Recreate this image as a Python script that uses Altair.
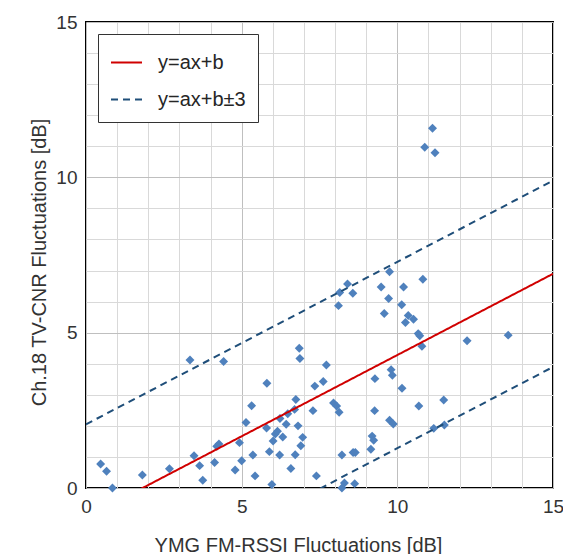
import altair as alt
import pandas as pd

# Scatter data
fm_rssi = [0.47, 0.66, 0.85, 1.81, 2.68, 3.34, 3.47, 3.65, 3.75, 4.13, 4.20, 4.27, 4.42,
           4.79, 4.93, 5.00, 5.14, 5.32, 5.36, 5.43, 5.81, 5.80, 5.89, 5.97, 6.01, 6.08,
           6.15, 6.23, 6.22, 6.32, 6.43, 6.48, 6.58, 6.70, 6.72, 6.74, 6.81, 6.85, 6.87,
           6.90, 6.96, 7.29, 7.35, 7.40, 7.62, 7.72, 7.95, 8.05, 8.13, 8.11, 8.15, 8.40,
           8.57, 8.22, 8.22, 8.30, 8.58, 8.65, 8.63, 9.15, 9.19, 9.24, 9.27, 9.28, 9.48,
           9.58, 9.72, 9.75, 9.75, 9.87, 9.80, 9.84, 10.15, 10.14, 10.20, 10.26, 10.35,
           10.52, 10.67, 10.72, 10.79, 10.82, 10.69, 11.17, 11.49, 11.51, 12.24, 13.56,
           10.88, 11.13, 11.21]
tv_cnr = [0.77, 0.54, 0.00, 0.42, 0.62, 4.12, 1.04, 0.72, 0.25, 0.82, 1.34, 1.42, 4.07,
          0.58, 1.46, 0.88, 2.11, 2.65, 1.06, 0.39, 3.37, 1.93, 1.17, 0.11, 1.51, 1.74,
          1.83, 2.24, 1.06, 1.64, 2.05, 2.39, 0.63, 2.53, 1.07, 2.85, 2.00, 4.50, 4.17,
          1.36, 1.63, 2.49, 3.28, 0.39, 3.43, 3.96, 2.74, 2.64, 2.44, 5.87, 6.29, 6.57,
          6.27, 1.06, 0.00, 0.16, 1.14, 1.14, 0.14, 1.25, 1.67, 1.54, 2.49, 3.52, 6.47,
          5.62, 6.10, 6.96, 2.18, 2.06, 3.81, 3.63, 3.21, 5.90, 6.47, 5.33, 5.55,
          5.43, 4.97, 4.90, 4.56, 6.72, 2.64, 1.92, 2.83, 2.03, 4.74, 4.92,
          10.97, 11.58, 10.79]

# Fit line parameters (y = a x + b) and band offsets
fit_a = 0.523
fit_b = -0.95
series_names = ["y=ax+b", "y=ax+b±3", "y=ax+b±3"]
series_ids = ["fit", "upper", "lower"]
series_offsets = [0, 3, -3]
x_ends = [0, 15]

ticks = list(range(16))

pts = pd.DataFrame({"x": fm_rssi, "y": tv_cnr})

rows = []
for name, sid, off in zip(series_names, series_ids, series_offsets):
    for xv in x_ends:
        rows.append({"series": name, "line": sid, "x": xv, "off": off})
lines_df = pd.DataFrame(rows)

FONT = "Liberation Sans"
grid_color = {"condition": {"test": "datum.value % 5 === 0", "value": "#BFBFBF"},
              "value": "#D9D9D9"}

x_scale = alt.Scale(domain=[0, 15], nice=False, zero=False)
y_scale = alt.Scale(domain=[0, 15], nice=False, zero=False)

x_axis = alt.Axis(values=ticks, labelExpr="datum.value % 5 === 0 ? datum.label : ''",
                  grid=True, gridColor=grid_color, gridWidth=1, ticks=False, domain=False,
                  labelFontSize=19, labelFont=FONT, labelColor="#333333", labelPadding=9,
                  labelFlush=False, labelOverlap=False,
                  title="YMG FM-RSSI Fluctuations [dB]", titleFontSize=20, titleFont=FONT,
                  titleFontWeight="normal", titleColor="#333333", titleX=212, titleY=63,
                  titleBaseline="alphabetic")
y_axis = alt.Axis(values=ticks, labelExpr="datum.value % 5 === 0 ? datum.label : ''",
                  grid=True, gridColor=grid_color, gridWidth=1, ticks=False, domain=False,
                  labelFontSize=19, labelFont=FONT, labelColor="#333333", labelPadding=9,
                  labelFlush=False, labelOverlap=False,
                  title="Ch.18 TV-CNR Fluctuations [dB]", titleFontSize=20, titleFont=FONT,
                  titleFontWeight="normal", titleColor="#333333", titleX=-47, titleY=240,
                  titleBaseline="middle")

scatter = alt.Chart(pts).mark_point(shape="diamond", filled=True, size=80,
                                    color="#4F81BD", opacity=1).encode(
    x=alt.X("x:Q", scale=x_scale, axis=x_axis),
    y=alt.Y("y:Q", scale=y_scale, axis=y_axis),
)

legend = alt.Legend(title=None, orient="none", legendX=12, legendY=12)

lines = alt.Chart(lines_df).transform_calculate(
    yv=f"{fit_a} * datum.x + ({fit_b}) + datum.off"
).mark_line(strokeWidth=2, clip=True).encode(
    x=alt.X("x:Q", scale=x_scale, axis=x_axis),
    y=alt.Y("yv:Q", scale=y_scale, axis=y_axis),
    detail="line:N",
    color=alt.Color("series:N", scale=alt.Scale(domain=["y=ax+b", "y=ax+b±3"],
                                                range=["#D00000", "#1F4E79"]),
                    legend=legend),
    strokeDash=alt.StrokeDash("series:N", scale=alt.Scale(domain=["y=ax+b", "y=ax+b±3"],
                                                          range=[[1, 0], [7, 5]]),
                              legend=legend),
)

chart = alt.layer(scatter, lines).properties(
    width=467, height=466,
    autosize=alt.AutoSizeParams(type="none"),
    padding={"left": 86, "top": 22, "right": 10, "bottom": 66},
    background="white",
).configure_view(
    stroke="#000000", strokeWidth=2
).configure_axis(
    labelOverlap=False
).configure_legend(
    symbolType="stroke", symbolSize=961, symbolStrokeWidth=2,
    labelFontSize=20, labelFont=FONT, labelColor="#262626", labelOffset=15,
    strokeColor="#333333", fillColor="white", padding=12, rowPadding=10,
    labelLimit=300,
)

chart.save("out.html", embed_options={"renderer": "svg", "actions": False})
